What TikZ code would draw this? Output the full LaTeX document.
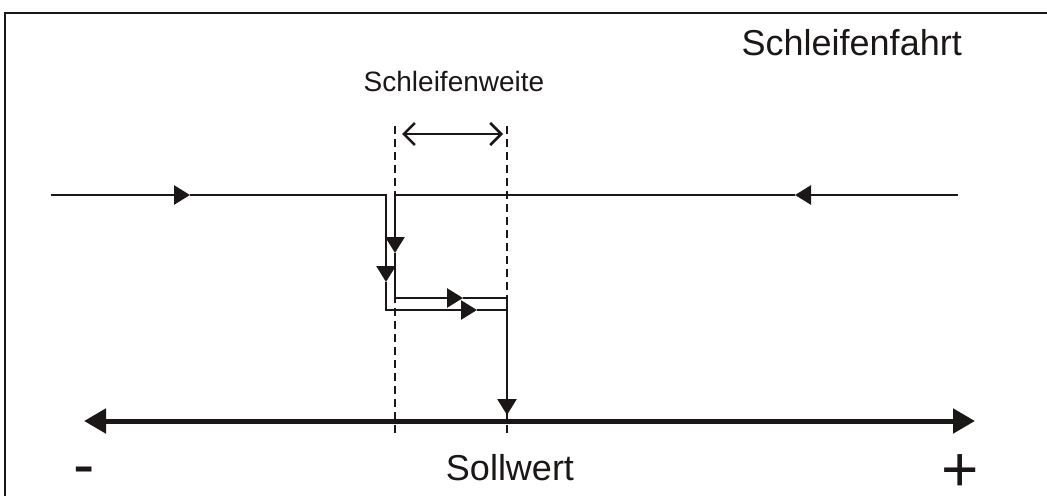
\documentclass[tikz,border=0pt]{standalone}
\usepackage{fontspec}
\setmainfont{Liberation Sans}
\usetikzlibrary{arrows.meta}
\definecolor{ink}{HTML}{1A1716}
\tikzset{
  thin line/.style={draw=ink, line width=2.5pt},
  flow/.style={thin line, -{Triangle[length=16pt,width=19pt]}},
  guide/.style={draw=ink, line width=1.5pt, dash pattern=on 8pt off 5pt},
  axis/.style={draw=ink, line width=5pt, {Triangle[length=22pt,width=24pt]}-{Triangle[length=22pt,width=24pt]}},
  span/.style={draw=ink, line width=2.5pt, {Straight Barb[length=11pt,width=22pt]}-{Straight Barb[length=11pt,width=22pt]}},
  lbl/.style={inner sep=0pt, text=ink, anchor=base},
}
\begin{document}
\begin{tikzpicture}[x=1pt,y=-1pt]
\useasboundingbox (0,0) rectangle (1047,496);
% frame (clipped at right and bottom)
\coordinate (fr1) at (1047,13);
\coordinate (fr2) at (5,13);
\coordinate (fr3) at (5,496);
\draw[draw=ink, line width=1.5pt] (fr1) -- (fr2) -- (fr3);

% texts
\node[lbl, anchor=base east] (title) at (962,55) {\fontsize{36}{40}\selectfont Schleifenfahrt};
\node[lbl] (weite) at (454,91) {\fontsize{28}{32}\selectfont Schleifenweite};
\node[lbl] (soll) at (510,480) {\fontsize{36}{40}\selectfont Sollwert};
\node[lbl] (minus) at (84,486) {\fontsize{64}{68}\selectfont -};
\node[lbl] (plus) at (960.5,491) {\fontsize{64}{68}\selectfont +};

% coordinates
\coordinate (l0) at (51,195);
\coordinate (la) at (190,195);
\coordinate (lk) at (386,195);
\coordinate (ld) at (386,282);
\coordinate (lb) at (386,310);
\coordinate (lr) at (477,310);
\coordinate (le) at (507,310);
\coordinate (r0) at (958,195);
\coordinate (ra) at (795,195);
\coordinate (rk) at (395,195);
\coordinate (rd) at (395,253);
\coordinate (rb) at (395,298);
\coordinate (rr) at (463,298);
\coordinate (re) at (507,298);
\coordinate (hit) at (507,415);
\coordinate (g1t) at (395,126);
\coordinate (g1b) at (395,436);
\coordinate (g2t) at (507,126);
\coordinate (g2b) at (507,436);
\coordinate (sa) at (402,134);
\coordinate (sb) at (503,134);
\coordinate (axl) at (84,421);
\coordinate (axr) at (975,421);

% dashed guides
\draw[guide] (g1t) -- (g1b);
\draw[guide] (g2t) -- (g2b);

% width arrow
\draw[span] (sa) -- (sb);

% path from the left
\draw[flow] (l0) -- (la);
\draw[flow] (la) -- (lk) -- (ld);
\draw[flow] (ld) -- (lb) -- (lr);
\draw[thin line] (lr) -- (le);

% path from the right
\draw[flow] (r0) -- (ra);
\draw[flow] (ra) -- (rk) -- (rd);
\draw[flow] (rd) -- (rb) -- (rr);
\draw[thin line] (rr) -- (re) -- (le);

% drop to setpoint
\draw[flow] (re) -- (hit);

% axis
\draw[axis] (axl) -- (axr);
\end{tikzpicture}
\end{document}
